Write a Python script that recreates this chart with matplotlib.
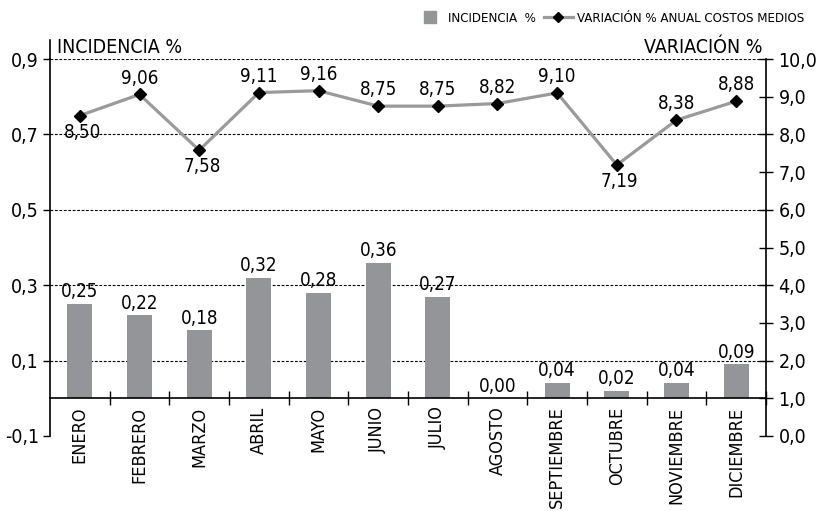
import matplotlib
matplotlib.use("Agg")
import matplotlib.pyplot as plt
from matplotlib.lines import Line2D

meses = ["ENERO", "FEBRERO", "MARZO", "ABRIL", "MAYO", "JUNIO", "JULIO",
         "AGOSTO", "SEPTIEMBRE", "OCTUBRE", "NOVIEMBRE", "DICIEMBRE"]
incidencia = [0.25, 0.22, 0.18, 0.32, 0.28, 0.36, 0.27, 0.00, 0.04, 0.02, 0.04, 0.09]
variacion = [8.50, 9.06, 7.58, 9.11, 9.16, 8.75, 8.75, 8.82, 9.10, 7.19, 8.38, 8.88]
abajo = [0, 2, 9]  # labels drawn under the marker

plt.rcParams["font.family"] = ["DejaVu Sans"]
plt.rcParams["font.stretch"] = "condensed"

bar_color = "#939598"
line_color = "#9a9a9a"

fig = plt.figure(figsize=(8.16, 5.11), dpi=100)
ax = fig.add_axes([0.0613, 0.1468, 0.8774, 0.7377])
ax2 = ax.twinx()

x = list(range(len(meses)))
ax.bar(x, incidencia, width=0.42, color=bar_color, zorder=2)
for xi, v in zip(x, incidencia):
    ax.annotate(f"{v:.2f}".replace(".", ","), (xi, v), xytext=(0, 2),
                textcoords="offset points", ha="center", va="bottom", fontsize=13.5)

ax.set_xlim(-0.5, len(meses) - 0.5)
ax.set_ylim(-0.1, 0.9)
ax.set_yticks([-0.1, 0.1, 0.3, 0.5, 0.7, 0.9])
ax.set_yticklabels(["-0,1", "0,1", "0,3", "0,5", "0,7", "0,9"], fontsize=14)
for yv in [0.1, 0.3, 0.5, 0.7, 0.9]:
    ax.axhline(yv, color="black", lw=0.8, ls=(0, (2.5, 1.5)), zorder=1)
ax.tick_params(axis="y", direction="out", length=5, width=1, pad=3)

ax.spines["bottom"].set_position(("data", 0))
ax.spines["top"].set_visible(False)
ax.spines["right"].set_visible(False)
ax.spines["left"].set_linewidth(1.2)
ax.spines["bottom"].set_linewidth(1.2)
ax.set_xticks(x)
ax.set_xticklabels(meses, rotation=90, fontsize=13, va="top")
ax.set_xticks([i + 0.5 for i in x], minor=True)
ax.tick_params(axis="x", which="major", length=0, pad=6)
ax.tick_params(axis="x", which="minor", direction="inout", length=10, width=1)
ax.plot([0, 0], [1.0, 1.05], transform=ax.transAxes, color="black", lw=1.2, clip_on=False)

ax2.plot(x, variacion, color=line_color, lw=2.3, marker="D", markersize=6,
         markerfacecolor="black", markeredgecolor="black", zorder=3)
for i, (xi, v) in enumerate(zip(x, variacion)):
    lab = f"{v:.2f}".replace(".", ",")
    if i in abajo:
        ax2.annotate(lab, (xi, v), xytext=(2, -5), textcoords="offset points",
                     ha="center", va="top", fontsize=13.5)
    else:
        ax2.annotate(lab, (xi, v), xytext=(0, 5), textcoords="offset points",
                     ha="center", va="bottom", fontsize=13.5)
ax2.set_ylim(0, 10)
ax2.set_yticks(range(0, 11))
ax2.set_yticklabels([f"{v:.1f}".replace(".", ",") for v in range(0, 11)], fontsize=14)
ax2.tick_params(axis="y", direction="inout", length=10, width=1, pad=4)
for s in ["top", "left", "bottom"]:
    ax2.spines[s].set_visible(False)
ax2.spines["right"].set_linewidth(1.2)

ax.text(0.01, 1.005, "INCIDENCIA %", transform=ax.transAxes, ha="left", va="bottom", fontsize=14)
ax.text(0.995, 1.005, "VARIACIÓN %", transform=ax.transAxes, ha="right", va="bottom", fontsize=14)

handles = [Line2D([], [], ls="", marker="s", markersize=8.5, color=bar_color),
           Line2D([], [], color=line_color, lw=2.3, marker="D", markersize=5,
                  markerfacecolor="black", markeredgecolor="black")]
fig.legend(handles, ["INCIDENCIA  %", "VARIACIÓN % ANUAL COSTOS MEDIOS"], loc="upper right",
           bbox_to_anchor=(1.0, 1.0), ncol=2, frameon=False, fontsize=9.5,
           handlelength=2.2, columnspacing=0.6, handletextpad=0.3)

fig.savefig("out.png", dpi=100)
